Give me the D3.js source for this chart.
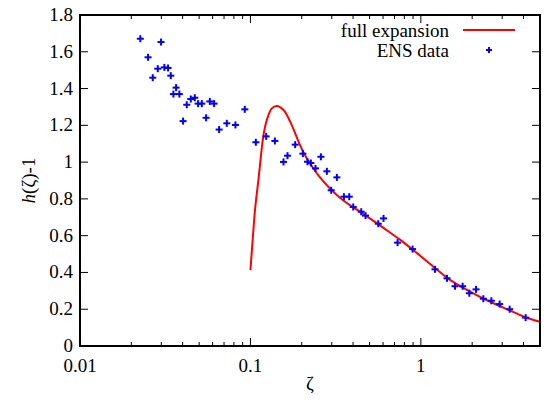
<!DOCTYPE html>
<html><head><meta charset="utf-8">
<script src="https://cdn.jsdelivr.net/npm/d3@7"></script>
<style>body{margin:0;background:#fff}svg{display:block}</style>
</head><body>
<script>
const dataX = [0.02259,0.02989,0.02508,0.02860,0.02673,0.03126,0.03286,0.03409,0.03663,0.03532,0.03829,0.04025,0.04231,0.04467,0.04715,0.04930,0.05184,0.05495,0.05776,0.06120,0.06550,0.07267,0.08166,0.09271,0.1076,0.1237,0.1391,0.1563,0.1650,0.1830,0.2031,0.2161,0.2263,0.2408,0.2591,0.2809,0.3216,0.2978,0.3536,0.3799,0.4010,0.4467,0.4735,0.5622,0.6039,0.7299,0.8937,1.210,1.423,1.586,1.758,1.924,2.107,2.325,2.591,2.899,3.319,4.120];
const dataY = [1.671,1.653,1.570,1.508,1.459,1.515,1.512,1.470,1.405,1.370,1.370,1.223,1.312,1.343,1.350,1.318,1.318,1.241,1.330,1.318,1.177,1.211,1.202,1.287,1.108,1.140,1.115,1.001,1.035,1.095,1.046,1.002,0.995,0.966,1.029,0.950,0.917,0.847,0.812,0.812,0.756,0.730,0.709,0.665,0.694,0.562,0.527,0.417,0.368,0.325,0.325,0.287,0.308,0.257,0.246,0.228,0.200,0.154];
const curveX = [0.100,0.1033,0.1066,0.1114,0.1192,0.1248,0.1335,0.1429,0.1563,0.1711,0.1959,0.2144,0.2344,0.2567,0.2938,0.3363,0.3849,0.4408,0.4826,0.6039,0.757,0.949,1.188,1.489,1.865,2.335,2.926,3.667,4.12,5.0];
const curveY = [0.413,0.590,0.749,0.903,1.145,1.229,1.292,1.305,1.283,1.220,1.090,1.020,0.965,0.915,0.855,0.805,0.765,0.730,0.705,0.642,0.577,0.505,0.430,0.358,0.305,0.257,0.216,0.176,0.155,0.132];
const yTicks = [0,0.2,0.4,0.6,0.8,1,1.2,1.4,1.6,1.8];
const yTickLabels = ["0","0.2","0.4","0.6","0.8","1","1.2","1.4","1.6","1.8"];
const xTicks = [0.01,0.1,1];
const xTickLabels = ["0.01","0.1","1"];
const legendLabels = ["full expansion","ENS data"];

const W=544,H=400, L=80,R=540,T=15,B=346;
const FF='"Liberation Serif"';
const svg=d3.select("body").append("svg").attr("width",W).attr("height",H);
const x=d3.scaleLog().domain([0.01,5]).range([L,R]);
const y=d3.scaleLinear().domain([0,1.8]).range([B,T]);
const txt=(sel)=>sel.style("font-family",FF).attr("font-size",19).attr("fill","#000");

const minor=[];
[0.01,0.1,1].forEach(d=>{for(let k=2;k<=9;k++){const v=d*k;if(v<=5)minor.push(v);}});
const g=svg.append("g").attr("stroke","#000").attr("stroke-width",1);
minor.forEach(v=>{
  g.append("line").attr("x1",x(v)).attr("x2",x(v)).attr("y1",B).attr("y2",B-4);
  g.append("line").attr("x1",x(v)).attr("x2",x(v)).attr("y1",T).attr("y2",T+4);
});
xTicks.forEach(v=>{
  g.append("line").attr("x1",x(v)).attr("x2",x(v)).attr("y1",B).attr("y2",B-8);
  g.append("line").attr("x1",x(v)).attr("x2",x(v)).attr("y1",T).attr("y2",T+8);
});
yTicks.forEach(v=>{
  g.append("line").attr("x1",L).attr("x2",L+8).attr("y1",y(v)).attr("y2",y(v));
  g.append("line").attr("x1",R).attr("x2",R-8).attr("y1",y(v)).attr("y2",y(v));
});

yTicks.forEach((v,i)=>{
  txt(svg.append("text")).attr("x",L-7).attr("y",y(v)+6).attr("text-anchor","end").text(yTickLabels[i]);
});
xTicks.forEach((v,i)=>{
  txt(svg.append("text")).attr("x",x(v)).attr("y",B+26).attr("text-anchor","middle").text(xTickLabels[i]);
});
txt(svg.append("text")).attr("x",(L+R)/2).attr("y",390).attr("text-anchor","middle").text("ζ");
const yl=txt(svg.append("text")).attr("transform",`translate(35,${(T+B)/2}) rotate(-90)`)
  .attr("text-anchor","middle");
yl.append("tspan").attr("font-style","italic").text("h");
yl.append("tspan").text("(ζ)-1");

const pts=curveX.map((v,i)=>[x(v),y(curveY[i])]);
svg.append("path").attr("d",d3.line().curve(d3.curveCatmullRom.alpha(0.5))(pts))
  .attr("fill","none").attr("stroke","#ff0000").attr("stroke-width",2);

const s=3.5;
const mk=svg.append("g").attr("stroke","#0000ff").attr("stroke-width",2);
dataX.forEach((v,i)=>{
  const cx=x(v),cy=y(dataY[i]);
  mk.append("line").attr("x1",cx-s).attr("x2",cx+s).attr("y1",cy).attr("y2",cy);
  mk.append("line").attr("x1",cx).attr("x2",cx).attr("y1",cy-s).attr("y2",cy+s);
});

txt(svg.append("text")).attr("x",449).attr("y",37).attr("text-anchor","end").text(legendLabels[0]);
svg.append("line").attr("x1",463).attr("x2",515).attr("y1",30).attr("y2",30)
  .attr("stroke","#ff0000").attr("stroke-width",2);
txt(svg.append("text")).attr("x",449).attr("y",57).attr("text-anchor","end").text(legendLabels[1]);
const lg=svg.append("g").attr("stroke","#0000ff").attr("stroke-width",2);
lg.append("line").attr("x1",489-3).attr("x2",489+3).attr("y1",50).attr("y2",50);
lg.append("line").attr("x1",489).attr("x2",489).attr("y1",47).attr("y2",53);

svg.append("rect").attr("x",L).attr("y",T).attr("width",R-L).attr("height",B-T)
  .attr("fill","none").attr("stroke","#000").attr("stroke-width",2);
</script>
</body></html>
